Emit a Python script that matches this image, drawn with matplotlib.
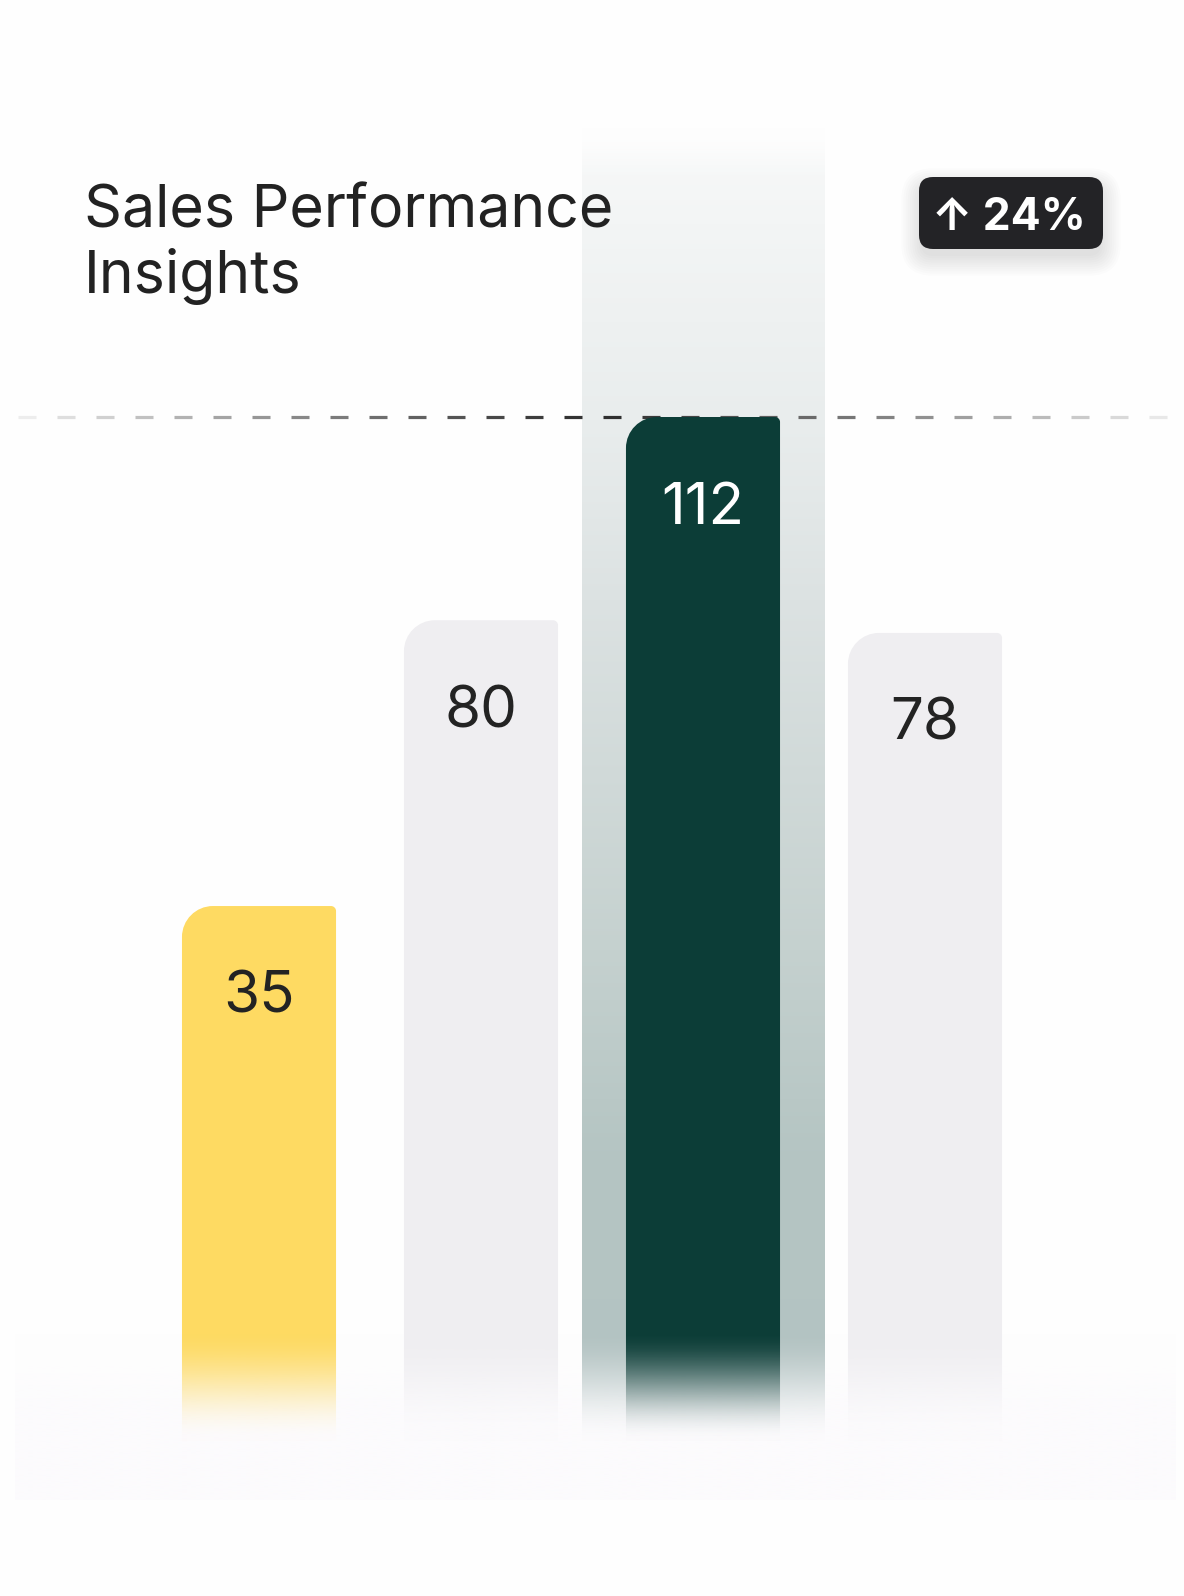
import numpy as np
import matplotlib
matplotlib.use("Agg")
import matplotlib.pyplot as plt
from matplotlib.path import Path
from matplotlib.patches import PathPatch, FancyBboxPatch
from matplotlib.collections import LineCollection
from matplotlib.colors import to_rgb

# ---------------- data ----------------
values = [35, 80, 112, 78]
value_labels = ["35", "80", "112", "78"]
bar_colors = ["#FEDA62", "#EFEEF1", "#0C3D37", "#EFEEF1"]
label_colors = ["#232323", "#232323", "#FFFFFF", "#232323"]
title_lines = ["Sales Performance", "Insights"]
growth_pct = 24
badge_text = f"\u2191 {growth_pct}%"

# ---------------- figure ----------------
W, H = 1184, 1596
BG = "#FEFEFE"
fig = plt.figure(figsize=(W / 100, H / 100), dpi=100, facecolor=BG)
ax = fig.add_axes([0, 0, 1, 1])
ax.set_axis_off()
ax.set_facecolor(BG)
XLIM = (-1.1667, 4.1667)
YLIM = (-73.64, 177.66)
sx = (XLIM[1] - XLIM[0]) / W
sy = (YLIM[1] - YLIM[0]) / H


def ydat(ypx):
    return YLIM[1] - ypx * sy


def xdat(xpx):
    return XLIM[0] + xpx * sx


x = np.arange(len(values))
bar_w = 0.694
floor = ydat(1450)
hi = int(np.argmax(values))


def smooth(t):
    t = np.clip(t, 0, 1)
    return t * t * (3 - 2 * t)


# ---- highlight column behind max bar ----
stops_px = [125, 420, 600, 950, 1150, 1450]
stops_col = ["#F8F9F9", "#E9EDED", "#DCE2E2", "#C5D1CF", "#B5C5C3", "#B3C3C2"]
rows = np.linspace(125, 1450, 600)
cols = np.array([to_rgb(c) for c in stops_col])
img = np.zeros((len(rows), 1, 4))
for k in range(3):
    img[:, 0, k] = np.interp(rows, stops_px, cols[:, k])
img[:, 0, 3] = smooth((rows - 125) / 60)
half = 0.547
ax.imshow(img, extent=[hi - half, hi + half, ydat(1450), ydat(125)],
          aspect="auto", interpolation="bilinear", zorder=1, origin="upper")

# ---- dashed reference line at max value ----
dash_px, period_px = 18, 39
starts = np.arange(18, 1160, period_px)
segs, dcols = [], []
for s in starts:
    xc = s + dash_px / 2
    r = min(abs(xc - 600) / 580, 1.0)
    g = (45 + 195 * r ** 1.15) / 255
    segs.append([(xdat(s), max(values)), (xdat(s + dash_px), max(values))])
    dcols.append((g, g, g))
ax.add_collection(LineCollection(segs, colors=dcols, linewidths=2.3,
                                 capstyle="butt", zorder=2))

# ---- bars with rounded top corners ----
K = 0.5523
r_tl, r_tr = 31, 5
for i, (v, c) in enumerate(zip(values, bar_colors)):
    l, rgt = i - bar_w / 2, i + bar_w / 2
    rx1, ry1 = r_tl * sx, r_tl * sy
    rx2, ry2 = r_tr * sx, r_tr * sy
    verts = [
        (l, floor), (l, v - ry1),
        (l, v - ry1 + K * ry1), (l + rx1 - K * rx1, v), (l + rx1, v),
        (rgt - rx2, v),
        (rgt - rx2 + K * rx2, v), (rgt, v - ry2 + K * ry2), (rgt, v - ry2),
        (rgt, floor), (l, floor),
    ]
    codes = [Path.MOVETO, Path.LINETO,
             Path.CURVE4, Path.CURVE4, Path.CURVE4,
             Path.LINETO,
             Path.CURVE4, Path.CURVE4, Path.CURVE4,
             Path.LINETO, Path.CLOSEPOLY]
    ax.add_patch(PathPatch(Path(verts, codes), facecolor=c, edgecolor="none", zorder=3))
    ax.annotate(value_labels[i], (i, v), xytext=(0, -77), textcoords="offset points",
                ha="center", va="baseline", fontsize=42, family=["Inter", "DejaVu Sans"],
                color=label_colors[i], zorder=4)

# ---- bottom fade band ----
rows2 = np.linspace(1330, 1500, 300)
band = np.zeros((len(rows2), 1, 4))
band[:, 0, :3] = np.array(to_rgb("#FCFBFD"))
band[:, 0, 3] = smooth((rows2 - 1330) / 110)
ax.imshow(band, extent=[xdat(15), xdat(1175), ydat(1500), ydat(1330)],
          aspect="auto", interpolation="bilinear", zorder=5, origin="upper")

ax.set_xlim(XLIM)
ax.set_ylim(YLIM)

# ---------------- overlay in pixel units: title + badge ----------------
ov = fig.add_axes([0, 0, 1, 1])
ov.set_axis_off()
ov.patch.set_alpha(0)
ov.set_xlim(0, W)
ov.set_ylim(H, 0)

ov.text(84, 228, title_lines[0], fontsize=42.5, family=["Inter", "DejaVu Sans"],
        color="#222222", va="baseline", ha="left")
ov.text(84, 293, title_lines[1], fontsize=42.5, family=["Inter", "DejaVu Sans"],
        color="#222222", va="baseline", ha="left")

bx0, by0, bx1, by1, br = 919, 177, 1103, 249, 14
for j in range(10):
    grow = 2 + j * 2.2
    ov.add_patch(FancyBboxPatch((bx0 + br, by0 + br + 9), bx1 - bx0 - 2 * br,
                                by1 - by0 - 2 * br,
                                boxstyle=f"round,pad={br + grow - 4}",
                                facecolor="black", edgecolor="none", alpha=0.012, zorder=5))
ov.add_patch(FancyBboxPatch((bx0 + br, by0 + br), bx1 - bx0 - 2 * br, by1 - by0 - 2 * br,
                            boxstyle=f"round,pad={br}", facecolor="#232326",
                            edgecolor="none", zorder=6))
ov.text((bx0 + bx1) / 2 - 2, 230, badge_text, fontsize=32, fontweight="bold",
        family=["Inter", "DejaVu Sans"], color="white", ha="center", va="baseline", zorder=7)

fig.savefig("out.png", dpi=100, facecolor=BG)
